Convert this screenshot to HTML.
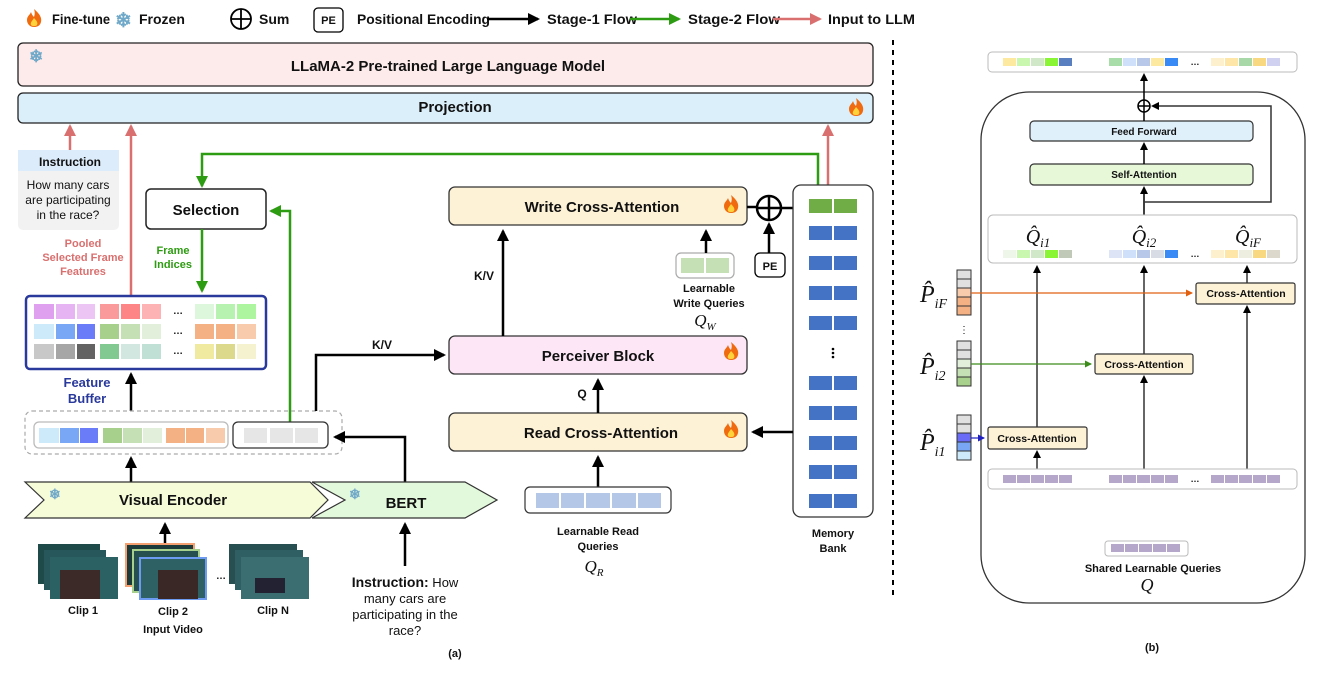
<!DOCTYPE html>
<html><head><meta charset="utf-8"><style>
body{margin:0;background:#fff}
svg{display:block}
text{font-family:"Liberation Sans",sans-serif;font-weight:bold;fill:#111}
.s{font-family:"Liberation Serif",serif;font-style:italic;font-weight:normal}
</style></head><body>
<svg width="1324" height="674" viewBox="0 0 1324 674" xmlns="http://www.w3.org/2000/svg">
<defs>
<marker id="ab" markerWidth="8" markerHeight="8" refX="6" refY="4" orient="auto" markerUnits="userSpaceOnUse"><path d="M0,0 L8,4 L0,8 z" fill="#000"/></marker>
<marker id="ab2" markerWidth="12" markerHeight="12" refX="10" refY="6" orient="auto" markerUnits="userSpaceOnUse"><path d="M0,0 L12,6 L0,12 z" fill="#000"/></marker>
<marker id="ag" markerWidth="12" markerHeight="12" refX="10" refY="6" orient="auto" markerUnits="userSpaceOnUse"><path d="M0,0 L12,6 L0,12 z" fill="#2e9c12"/></marker>
<marker id="ap" markerWidth="12" markerHeight="12" refX="10" refY="6" orient="auto" markerUnits="userSpaceOnUse"><path d="M0,0 L12,6 L0,12 z" fill="#d9706f"/></marker>
<marker id="ao" markerWidth="7" markerHeight="7" refX="6" refY="3.5" orient="auto" markerUnits="userSpaceOnUse"><path d="M0,0 L7,3.5 L0,7 z" fill="#e06010"/></marker>
<marker id="agr" markerWidth="7" markerHeight="7" refX="6" refY="3.5" orient="auto" markerUnits="userSpaceOnUse"><path d="M0,0 L7,3.5 L0,7 z" fill="#3c8c1c"/></marker>
<marker id="abl" markerWidth="7" markerHeight="7" refX="6" refY="3.5" orient="auto" markerUnits="userSpaceOnUse"><path d="M0,0 L7,3.5 L0,7 z" fill="#2020c0"/></marker>
<g id="fire"><path d="M0,-9 C6,-4 8,0 7,4 C6,8 3,9 0,9 C-4,9 -7,6 -7,2 C-7,-2 -4,-3 -3,-6 C-2,-3 -1,-2 0,-1 C1,-4 1,-6 0,-9 z" fill="#f06a10"/><path d="M0,0 C3,3 4,5 3,7 C2,8.5 -2,8.5 -3,7 C-4,5 -2,3 0,0 z" fill="#ffd23c"/></g>
</defs>

<!-- Legend -->
<use href="#fire" x="34" y="18"/>
<text x="52" y="24" font-size="14" textLength="58" lengthAdjust="spacingAndGlyphs">Fine-tune</text>
<text x="115" y="27" font-size="20" style="fill:#6fa8c8">❄</text>
<text x="139" y="24" font-size="14">Frozen</text>
<circle cx="241" cy="19" r="10" fill="none" stroke="#000" stroke-width="1.8"/><line x1="231" y1="19" x2="251" y2="19" stroke="#000" stroke-width="1.8"/><line x1="241" y1="9" x2="241" y2="29" stroke="#000" stroke-width="1.8"/>
<text x="259" y="24" font-size="14">Sum</text>
<rect x="314" y="8" width="29" height="24" rx="4" fill="#fff" stroke="#000" stroke-width="1.3"/>
<text x="328.5" y="24" font-size="11" text-anchor="middle">PE</text>
<text x="357" y="24" font-size="14" textLength="133" lengthAdjust="spacingAndGlyphs">Positional Encoding</text>
<line x1="487" y1="19" x2="538" y2="19" stroke="#000" stroke-width="2.5" marker-end="url(#ab2)"/>
<text x="547" y="24" font-size="14" textLength="90" lengthAdjust="spacingAndGlyphs">Stage-1 Flow</text>
<line x1="630" y1="19" x2="679" y2="19" stroke="#2e9c12" stroke-width="2.5" marker-end="url(#ag)"/>
<text x="688" y="24" font-size="14" textLength="92" lengthAdjust="spacingAndGlyphs">Stage-2 Flow</text>
<line x1="773" y1="19" x2="820" y2="19" stroke="#d9706f" stroke-width="2.5" marker-end="url(#ap)"/>
<text x="828" y="24" font-size="14" textLength="87" lengthAdjust="spacingAndGlyphs">Input to LLM</text>

<line x1="893" y1="40" x2="893" y2="600" stroke="#000" stroke-width="2" stroke-dasharray="5,5"/>

<!-- LLaMA / Projection -->
<rect x="18" y="43" width="855" height="43" rx="5" fill="#fdeaea" stroke="#222" stroke-width="1.3"/>
<text x="29" y="62" font-size="17" style="fill:#6fa8c8">❄</text>
<text x="448" y="71" font-size="15" text-anchor="middle">LLaMA-2 Pre-trained Large Language Model</text>
<rect x="18" y="93" width="855" height="30" rx="5" fill="#dbeffb" stroke="#222" stroke-width="1.3"/>
<text x="455" y="112" font-size="15" text-anchor="middle">Projection</text>
<use href="#fire" x="856" y="107"/>

<!-- pink arrows -->
<line x1="70" y1="150" x2="70" y2="126" stroke="#d9706f" stroke-width="2.5" marker-end="url(#ap)"/>
<line x1="131" y1="297" x2="131" y2="126" stroke="#d9706f" stroke-width="2.5" marker-end="url(#ap)"/>
<line x1="828" y1="186" x2="828" y2="126" stroke="#d9706f" stroke-width="2.5" marker-end="url(#ap)"/>

<!-- Instruction box -->
<rect x="18" y="150" width="101" height="80" rx="5" fill="#f2f2f2"/>
<rect x="18" y="150" width="101" height="21" fill="#dcecfb"/>
<text x="70" y="166" font-size="12" text-anchor="middle">Instruction</text>
<text x="68" y="189" font-size="12" text-anchor="middle" style="font-weight:normal">How many cars</text>
<text x="68" y="204" font-size="12" text-anchor="middle" style="font-weight:normal">are participating</text>
<text x="68" y="219" font-size="12" text-anchor="middle" style="font-weight:normal">in the race?</text>
<text x="83" y="247" font-size="11" text-anchor="middle" style="fill:#d9706f">Pooled</text>
<text x="83" y="261" font-size="11" text-anchor="middle" style="fill:#d9706f">Selected Frame</text>
<text x="83" y="275" font-size="11" text-anchor="middle" style="fill:#d9706f">Features</text>

<!-- Selection & green flows -->
<polyline points="818,186 818,154 202,154 202,186" fill="none" stroke="#2e9c12" stroke-width="2.5" marker-end="url(#ag)"/>
<rect x="146" y="189" width="120" height="40" rx="5" fill="#fff" stroke="#222" stroke-width="1.5"/>
<text x="206" y="215" font-size="15" text-anchor="middle">Selection</text>
<polyline points="290,422 290,211 271,211" fill="none" stroke="#2e9c12" stroke-width="2.5" marker-end="url(#ag)"/>
<line x1="202" y1="229" x2="202" y2="291" stroke="#2e9c12" stroke-width="2.5" marker-end="url(#ag)"/>
<text x="173" y="254" font-size="11" text-anchor="middle" style="fill:#2e9c12">Frame</text>
<text x="173" y="268" font-size="11" text-anchor="middle" style="fill:#2e9c12">Indices</text>

<!-- Feature buffer -->
<rect x="26" y="296" width="240" height="73" rx="4" fill="#fff" stroke="#2a3a9c" stroke-width="2.5"/>
<g>
<rect x="34" y="304" width="20" height="15" fill="#e0a0f0"/><rect x="56" y="304" width="19" height="15" fill="#e6b3f3"/><rect x="77" y="304" width="18" height="15" fill="#ecc5f5"/>
<rect x="100" y="304" width="19" height="15" fill="#fb9a9a"/><rect x="121" y="304" width="19" height="15" fill="#fd8585"/><rect x="142" y="304" width="19" height="15" fill="#fdb3b3"/>
<rect x="195" y="304" width="19" height="15" fill="#dcf7dc"/><rect x="216" y="304" width="19" height="15" fill="#b8f2b0"/><rect x="237" y="304" width="19" height="15" fill="#aef5a0"/>
<rect x="34" y="324" width="20" height="15" fill="#cceaf9"/><rect x="56" y="324" width="19" height="15" fill="#7aa7f5"/><rect x="77" y="324" width="18" height="15" fill="#6a7cf8"/>
<rect x="100" y="324" width="19" height="15" fill="#a8d08d"/><rect x="121" y="324" width="19" height="15" fill="#c5e0b4"/><rect x="142" y="324" width="19" height="15" fill="#e2efda"/>
<rect x="195" y="324" width="19" height="15" fill="#f4b183"/><rect x="216" y="324" width="19" height="15" fill="#f4b183"/><rect x="237" y="324" width="19" height="15" fill="#f8cbad"/>
<rect x="34" y="344" width="20" height="15" fill="#c8c8c8"/><rect x="56" y="344" width="19" height="15" fill="#a6a6a6"/><rect x="77" y="344" width="18" height="15" fill="#636363"/>
<rect x="100" y="344" width="19" height="15" fill="#82c991"/><rect x="121" y="344" width="19" height="15" fill="#d2e7df"/><rect x="142" y="344" width="19" height="15" fill="#c1e0d5"/>
<rect x="195" y="344" width="19" height="15" fill="#f0eaa0"/><rect x="216" y="344" width="19" height="15" fill="#dcd88c"/><rect x="237" y="344" width="19" height="15" fill="#f5f2d0"/>
<text x="178" y="314" font-size="10" text-anchor="middle">…</text><text x="178" y="334" font-size="10" text-anchor="middle">…</text><text x="178" y="354" font-size="10" text-anchor="middle">…</text>
</g>
<text x="87" y="387" font-size="13" text-anchor="middle" style="fill:#2a3a9c">Feature</text>
<text x="87" y="403" font-size="13" text-anchor="middle" style="fill:#2a3a9c">Buffer</text>
<line x1="131" y1="411" x2="131" y2="374" stroke="#000" stroke-width="2.5" marker-end="url(#ab2)"/>

<!-- dashed group -->
<rect x="25" y="411" width="317" height="43" rx="7" fill="none" stroke="#aaa" stroke-width="1.2" stroke-dasharray="4,3"/>
<rect x="34" y="422" width="194" height="26" rx="5" fill="#fff" stroke="#bbb" stroke-width="1.3"/>
<rect x="39" y="428" width="20" height="15" fill="#cceaf9"/><rect x="60" y="428" width="19" height="15" fill="#7aa7f5"/><rect x="80" y="428" width="18" height="15" fill="#6a7cf8"/>
<rect x="103" y="428" width="19" height="15" fill="#a8d08d"/><rect x="123" y="428" width="19" height="15" fill="#c5e0b4"/><rect x="143" y="428" width="19" height="15" fill="#e2efda"/>
<rect x="166" y="428" width="19" height="15" fill="#f4b183"/><rect x="186" y="428" width="18" height="15" fill="#f4b183"/><rect x="206" y="428" width="19" height="15" fill="#f8cbad"/>
<rect x="233" y="422" width="95" height="26" rx="5" fill="#fff" stroke="#333" stroke-width="1.3"/>
<rect x="244" y="428" width="23" height="15" fill="#e6e6e6"/><rect x="270" y="428" width="23" height="15" fill="#e6e6e6"/><rect x="295" y="428" width="23" height="15" fill="#e6e6e6"/>

<line x1="131" y1="482" x2="131" y2="458" stroke="#000" stroke-width="2.5" marker-end="url(#ab2)"/>
<polyline points="405,482 405,437 335,437" fill="none" stroke="#000" stroke-width="2.5" marker-end="url(#ab2)"/>
<polyline points="316,411 316,355 444,355" fill="none" stroke="#000" stroke-width="2.5" marker-end="url(#ab2)"/>
<text x="382" y="349" font-size="12" text-anchor="middle">K/V</text>

<!-- Encoders -->
<polygon points="25,482 310,482 328,500 310,518 25,518 44,500" fill="#f6fbd8" stroke="#333" stroke-width="1.2"/>
<polygon points="312,482 465,482 497,500 465,518 312,518 345,500" fill="#e3f9dc" stroke="#333" stroke-width="1.2"/>
<text x="49" y="499" font-size="14" style="fill:#6fa8c8">❄</text>
<text x="349" y="499" font-size="14" style="fill:#6fa8c8">❄</text>
<text x="173" y="505" font-size="15" text-anchor="middle">Visual Encoder</text>
<text x="406" y="508" font-size="15" text-anchor="middle">BERT</text>

<!-- clips -->
<line x1="165" y1="545" x2="165" y2="524" stroke="#000" stroke-width="2.5" marker-end="url(#ab2)"/>
<g>
<rect x="38" y="544" width="62" height="40" fill="#1f4a4a"/><rect x="44" y="550" width="62" height="40" fill="#27575a"/><rect x="50" y="557" width="68" height="42" fill="#2c6163"/>
<rect x="60" y="570" width="40" height="29" fill="#3b2a28"/>
<rect x="126" y="544" width="68" height="42" fill="#1d3a3a" stroke="#f4a070" stroke-width="2"/><rect x="133" y="550" width="66" height="42" fill="#26504f" stroke="#a8d08d" stroke-width="2"/>
<rect x="140" y="558" width="66" height="41" fill="#2e6163" stroke="#6d9bf1" stroke-width="2"/>
<rect x="158" y="570" width="40" height="29" fill="#3a2826"/>
<text x="221" y="579" font-size="10" text-anchor="middle">…</text>
<rect x="229" y="544" width="68" height="40" fill="#274f52"/><rect x="235" y="550" width="68" height="40" fill="#2f5f62"/><rect x="241" y="557" width="68" height="42" fill="#3a6e70"/>
<rect x="255" y="578" width="30" height="15" fill="#223"/>
</g>
<text x="83" y="614" font-size="11" text-anchor="middle">Clip 1</text>
<text x="173" y="615" font-size="11" text-anchor="middle">Clip 2</text>
<text x="273" y="614" font-size="11" text-anchor="middle">Clip N</text>
<text x="173" y="633" font-size="11" text-anchor="middle">Input Video</text>

<line x1="405" y1="566" x2="405" y2="524" stroke="#000" stroke-width="2.5" marker-end="url(#ab2)"/>
<text x="405" y="587" font-size="13" text-anchor="middle"><tspan font-size="14">Instruction:</tspan><tspan style="font-weight:normal"> How</tspan></text>
<text x="405" y="603" font-size="13" text-anchor="middle" style="font-weight:normal">many cars are</text>
<text x="405" y="619" font-size="13" text-anchor="middle" style="font-weight:normal">participating in the</text>
<text x="405" y="635" font-size="13" text-anchor="middle" style="font-weight:normal">race?</text>
<text x="455" y="657" font-size="11" text-anchor="middle">(a)</text>

<!-- Middle blocks -->
<rect x="449" y="187" width="298" height="38" rx="6" fill="#fdf2d6" stroke="#333" stroke-width="1.3"/>
<text x="602" y="212" font-size="15" text-anchor="middle">Write Cross-Attention</text>
<use href="#fire" x="731" y="204"/>
<rect x="449" y="336" width="298" height="38" rx="6" fill="#fde7f7" stroke="#333" stroke-width="1.3"/>
<text x="598" y="361" font-size="15" text-anchor="middle">Perceiver Block</text>
<use href="#fire" x="731" y="351"/>
<rect x="449" y="413" width="298" height="38" rx="6" fill="#fdf2d6" stroke="#333" stroke-width="1.3"/>
<text x="601" y="438" font-size="15" text-anchor="middle">Read Cross-Attention</text>
<use href="#fire" x="731" y="429"/>

<line x1="503" y1="336" x2="503" y2="231" stroke="#000" stroke-width="2.5" marker-end="url(#ab2)"/>
<text x="484" y="280" font-size="12" text-anchor="middle">K/V</text>
<line x1="598" y1="413" x2="598" y2="380" stroke="#000" stroke-width="2.5" marker-end="url(#ab2)"/>
<text x="582" y="398" font-size="12" text-anchor="middle">Q</text>
<line x1="598" y1="487" x2="598" y2="457" stroke="#000" stroke-width="2.5" marker-end="url(#ab2)"/>

<rect x="525" y="487" width="146" height="26" rx="5" fill="#fff" stroke="#333" stroke-width="1.2"/>
<rect x="536" y="493" width="23" height="15" fill="#b4c7e7"/><rect x="561" y="493" width="23" height="15" fill="#b4c7e7"/><rect x="586" y="493" width="24" height="15" fill="#b4c7e7"/><rect x="612" y="493" width="24" height="15" fill="#b4c7e7"/><rect x="638" y="493" width="23" height="15" fill="#b4c7e7"/>
<text x="598" y="535" font-size="11" text-anchor="middle">Learnable Read</text>
<text x="598" y="550" font-size="11" text-anchor="middle">Queries</text>
<text x="594" y="572" font-size="17" class="s" text-anchor="middle">Q<tspan font-size="11" dy="4">R</tspan></text>

<rect x="676" y="253" width="58" height="25" rx="5" fill="#fff" stroke="#aaa" stroke-width="1.2"/>
<rect x="681" y="258" width="23" height="15" fill="#c5e0b4"/><rect x="706" y="258" width="23" height="15" fill="#c5e0b4"/>
<line x1="706" y1="253" x2="706" y2="231" stroke="#000" stroke-width="2.5" marker-end="url(#ab2)"/>
<text x="709" y="292" font-size="11" text-anchor="middle">Learnable</text>
<text x="709" y="307" font-size="11" text-anchor="middle">Write Queries</text>
<text x="705" y="326" font-size="17" class="s" text-anchor="middle">Q<tspan font-size="11" dy="4">W</tspan></text>

<line x1="747" y1="207" x2="757" y2="207" stroke="#000" stroke-width="2.5"/>
<circle cx="769" cy="208" r="12" fill="#fff" stroke="#000" stroke-width="2.5"/>
<line x1="757" y1="208" x2="781" y2="208" stroke="#000" stroke-width="2.5"/><line x1="769" y1="196" x2="769" y2="220" stroke="#000" stroke-width="2.5"/>
<line x1="781" y1="208" x2="805" y2="208" stroke="#000" stroke-width="2.5" marker-end="url(#ab2)"/>
<rect x="755" y="253" width="30" height="24" rx="5" fill="#fff" stroke="#000" stroke-width="1.3"/>
<text x="770" y="270" font-size="11" text-anchor="middle">PE</text>
<line x1="769" y1="253" x2="769" y2="224" stroke="#000" stroke-width="2.5" marker-end="url(#ab2)"/>

<!-- memory bank -->
<rect x="793" y="185" width="80" height="332" rx="8" fill="#fff" stroke="#333" stroke-width="1.3"/>
<rect x="809" y="199" width="23" height="14" fill="#70ad47"/><rect x="834" y="199" width="23" height="14" fill="#70ad47"/>
<g fill="#4472c4">
<rect x="809" y="226" width="23" height="14"/><rect x="834" y="226" width="23" height="14"/>
<rect x="809" y="256" width="23" height="14"/><rect x="834" y="256" width="23" height="14"/>
<rect x="809" y="286" width="23" height="14"/><rect x="834" y="286" width="23" height="14"/>
<rect x="809" y="316" width="23" height="14"/><rect x="834" y="316" width="23" height="14"/>
<rect x="809" y="376" width="23" height="14"/><rect x="834" y="376" width="23" height="14"/>
<rect x="809" y="406" width="23" height="14"/><rect x="834" y="406" width="23" height="14"/>
<rect x="809" y="436" width="23" height="14"/><rect x="834" y="436" width="23" height="14"/>
<rect x="809" y="465" width="23" height="14"/><rect x="834" y="465" width="23" height="14"/>
<rect x="809" y="494" width="23" height="14"/><rect x="834" y="494" width="23" height="14"/>
</g>
<circle cx="833" cy="349" r="1.3" fill="#000"/><circle cx="833" cy="353" r="1.3" fill="#000"/><circle cx="833" cy="357" r="1.3" fill="#000"/>
<text x="833" y="537" font-size="11" text-anchor="middle">Memory</text>
<text x="833" y="552" font-size="11" text-anchor="middle">Bank</text>
<line x1="793" y1="432" x2="753" y2="432" stroke="#000" stroke-width="2.5" marker-end="url(#ab2)"/>

<!-- (b) panel -->
<rect x="988" y="52" width="309" height="20" rx="4" fill="#fff" stroke="#bbb" stroke-width="1"/>
<g>
<rect x="1003" y="58" width="13" height="8" fill="#fde9a0"/><rect x="1017" y="58" width="13" height="8" fill="#c9f7b0"/><rect x="1031" y="58" width="13" height="8" fill="#d0e8c8"/><rect x="1045" y="58" width="13" height="8" fill="#8af535"/><rect x="1059" y="58" width="13" height="8" fill="#5a7fc0"/>
<rect x="1109" y="58" width="13" height="8" fill="#a8dca8"/><rect x="1123" y="58" width="13" height="8" fill="#cfe0fb"/><rect x="1137" y="58" width="13" height="8" fill="#b8c8e8"/><rect x="1151" y="58" width="13" height="8" fill="#fde9a0"/><rect x="1165" y="58" width="13" height="8" fill="#3a8af5"/>
<rect x="1211" y="58" width="13" height="8" fill="#fdf0cc"/><rect x="1225" y="58" width="13" height="8" fill="#fde6a8"/><rect x="1239" y="58" width="13" height="8" fill="#a8d8a8"/><rect x="1253" y="58" width="13" height="8" fill="#f8d880"/><rect x="1267" y="58" width="13" height="8" fill="#d0d0f0"/>
</g>
<text x="1195" y="65" font-size="9" text-anchor="middle">…</text>

<rect x="981" y="92" width="324" height="511" rx="48" fill="none" stroke="#333" stroke-width="1.3"/>
<line x1="1144" y1="100" x2="1144" y2="75" stroke="#000" stroke-width="1.5" marker-end="url(#ab)"/>
<circle cx="1144" cy="106" r="6" fill="#fff" stroke="#000" stroke-width="1.5"/><line x1="1138" y1="106" x2="1150" y2="106" stroke="#000" stroke-width="1.5"/><line x1="1144" y1="100" x2="1144" y2="112" stroke="#000" stroke-width="1.5"/>
<rect x="1030" y="121" width="223" height="20" rx="4" fill="#dff0fb" stroke="#333" stroke-width="1.2"/>
<text x="1144" y="135" font-size="10" text-anchor="middle">Feed Forward</text>
<rect x="1030" y="164" width="223" height="21" rx="4" fill="#e6f8d8" stroke="#333" stroke-width="1.2"/>
<text x="1144" y="178" font-size="10" text-anchor="middle">Self-Attention</text>
<line x1="1144" y1="121" x2="1144" y2="112" stroke="#000" stroke-width="1.5"/>
<line x1="1144" y1="164" x2="1144" y2="144" stroke="#000" stroke-width="1.5" marker-end="url(#ab)"/>
<line x1="1144" y1="215" x2="1144" y2="188" stroke="#000" stroke-width="1.5" marker-end="url(#ab)"/>
<polyline points="1144,202 1271,202 1271,106 1153,106" fill="none" stroke="#333" stroke-width="1.5" marker-end="url(#ab)"/>

<rect x="988" y="215" width="309" height="48" rx="5" fill="#fff" stroke="#bbb" stroke-width="1"/>
<text x="1038" y="243" font-size="20" class="s" text-anchor="middle">Q̂<tspan font-size="13" dy="4">i1</tspan></text>
<text x="1144" y="243" font-size="20" class="s" text-anchor="middle">Q̂<tspan font-size="13" dy="4">i2</tspan></text>
<text x="1248" y="243" font-size="20" class="s" text-anchor="middle">Q̂<tspan font-size="13" dy="4">iF</tspan></text>
<g>
<rect x="1003" y="250" width="13" height="8" fill="#eef6ea"/><rect x="1017" y="250" width="13" height="8" fill="#c9f7b0"/><rect x="1031" y="250" width="13" height="8" fill="#d0e8c8"/><rect x="1045" y="250" width="13" height="8" fill="#8af535"/><rect x="1059" y="250" width="13" height="8" fill="#c0c8b8"/>
<rect x="1109" y="250" width="13" height="8" fill="#dce4f5"/><rect x="1123" y="250" width="13" height="8" fill="#cfe0fb"/><rect x="1137" y="250" width="13" height="8" fill="#b8c8e8"/><rect x="1151" y="250" width="13" height="8" fill="#d8dce4"/><rect x="1165" y="250" width="13" height="8" fill="#3a8af5"/>
<rect x="1211" y="250" width="13" height="8" fill="#fdf0cc"/><rect x="1225" y="250" width="13" height="8" fill="#fde6a8"/><rect x="1239" y="250" width="13" height="8" fill="#eeeee0"/><rect x="1253" y="250" width="13" height="8" fill="#f8d880"/><rect x="1267" y="250" width="13" height="8" fill="#dcd8cc"/>
</g>
<text x="1195" y="257" font-size="9" text-anchor="middle">…</text>

<line x1="1037" y1="427" x2="1037" y2="267" stroke="#000" stroke-width="1.2" marker-end="url(#ab)"/>
<line x1="1144" y1="354" x2="1144" y2="267" stroke="#000" stroke-width="1.2" marker-end="url(#ab)"/>
<line x1="1247" y1="283" x2="1247" y2="267" stroke="#000" stroke-width="1.2" marker-end="url(#ab)"/>
<line x1="1037" y1="469" x2="1037" y2="452" stroke="#000" stroke-width="1.2" marker-end="url(#ab)"/>
<line x1="1144" y1="469" x2="1144" y2="377" stroke="#000" stroke-width="1.2" marker-end="url(#ab)"/>
<line x1="1247" y1="469" x2="1247" y2="307" stroke="#000" stroke-width="1.2" marker-end="url(#ab)"/>

<rect x="1196" y="283" width="99" height="21" rx="2" fill="#fdf2d6" stroke="#333" stroke-width="1.2"/>
<text x="1246" y="297" font-size="10.5" text-anchor="middle">Cross-Attention</text>
<rect x="1095" y="354" width="98" height="20" rx="2" fill="#fdf2d6" stroke="#333" stroke-width="1.2"/>
<text x="1144" y="368" font-size="10.5" text-anchor="middle">Cross-Attention</text>
<rect x="988" y="427" width="99" height="22" rx="2" fill="#fdf2d6" stroke="#333" stroke-width="1.2"/>
<text x="1037" y="442" font-size="10.5" text-anchor="middle">Cross-Attention</text>

<rect x="988" y="469" width="309" height="20" rx="4" fill="#fff" stroke="#bbb" stroke-width="1"/>
<g fill="#b4a7c9">
<rect x="1003" y="475" width="13" height="8"/><rect x="1017" y="475" width="13" height="8"/><rect x="1031" y="475" width="13" height="8"/><rect x="1045" y="475" width="13" height="8"/><rect x="1059" y="475" width="13" height="8"/>
<rect x="1109" y="475" width="13" height="8"/><rect x="1123" y="475" width="13" height="8"/><rect x="1137" y="475" width="13" height="8"/><rect x="1151" y="475" width="13" height="8"/><rect x="1165" y="475" width="13" height="8"/>
<rect x="1211" y="475" width="13" height="8"/><rect x="1225" y="475" width="13" height="8"/><rect x="1239" y="475" width="13" height="8"/><rect x="1253" y="475" width="13" height="8"/><rect x="1267" y="475" width="13" height="8"/>
</g>
<text x="1195" y="482" font-size="9" text-anchor="middle">…</text>
<rect x="1105" y="541" width="83" height="15" rx="3" fill="#fff" stroke="#bbb" stroke-width="1"/>
<g fill="#b4a7c9"><rect x="1111" y="544" width="13" height="8"/><rect x="1125" y="544" width="13" height="8"/><rect x="1139" y="544" width="13" height="8"/><rect x="1153" y="544" width="13" height="8"/><rect x="1167" y="544" width="13" height="8"/></g>
<text x="1153" y="572" font-size="11" text-anchor="middle">Shared Learnable Queries</text>
<text x="1147" y="591" font-size="18" class="s" text-anchor="middle">Q</text>
<text x="1152" y="651" font-size="11" text-anchor="middle">(b)</text>

<!-- P hats -->
<g stroke="#333" stroke-width="1">
<rect x="957" y="270" width="14" height="9" fill="#e0e0e0"/><rect x="957" y="279" width="14" height="9" fill="#e0e0e0"/><rect x="957" y="288" width="14" height="9" fill="#f8cbad"/><rect x="957" y="297" width="14" height="9" fill="#f4b183"/><rect x="957" y="306" width="14" height="9" fill="#f4b183"/>
<rect x="957" y="341" width="14" height="9" fill="#e0e0e0"/><rect x="957" y="350" width="14" height="9" fill="#e0e0e0"/><rect x="957" y="359" width="14" height="9" fill="#e2efda"/><rect x="957" y="368" width="14" height="9" fill="#c5e0b4"/><rect x="957" y="377" width="14" height="9" fill="#a9d18e"/>
<rect x="957" y="415" width="14" height="9" fill="#e0e0e0"/><rect x="957" y="424" width="14" height="9" fill="#e0e0e0"/><rect x="957" y="433" width="14" height="9" fill="#6a6cf8"/><rect x="957" y="442" width="14" height="9" fill="#7aa7f5"/><rect x="957" y="451" width="14" height="9" fill="#cceaf9"/>
</g>
<text x="964" y="333" font-size="10" text-anchor="middle" style="font-weight:normal">⋮</text>
<line x1="971" y1="293" x2="1192" y2="293" stroke="#e06010" stroke-width="1.2" marker-end="url(#ao)"/>
<line x1="971" y1="364" x2="1091" y2="364" stroke="#3c8c1c" stroke-width="1.2" marker-end="url(#agr)"/>
<line x1="971" y1="438" x2="984" y2="438" stroke="#2020c0" stroke-width="1.2" marker-end="url(#abl)"/>
<text x="920" y="302" font-size="24" class="s">P̂<tspan font-size="14" dy="6">iF</tspan></text>
<text x="920" y="374" font-size="24" class="s">P̂<tspan font-size="14" dy="6">i2</tspan></text>
<text x="920" y="450" font-size="24" class="s">P̂<tspan font-size="14" dy="6">i1</tspan></text>
</svg>
</body></html>
